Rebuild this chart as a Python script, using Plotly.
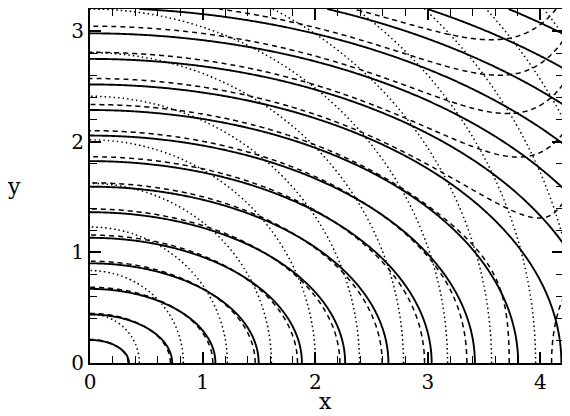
import numpy as np
import plotly.graph_objects as go

# ---- values ----
x_range = [0, 4.2]
y_range = [0, 3.2]
x_ticks = [0, 1, 2, 3, 4]
y_ticks = [0, 1, 2, 3]

# solid family: semi-axis per unit level (x, y) and level list
solid_scale = [0.384, 0.231]
solid_levels = [0.9, 1.9, 2.9, 3.9, 4.9, 5.9, 6.9, 7.9, 8.9, 9.9, 10.9,
                11.9, 12.9, 13.9, 14.9, 15.9, 16.9, 17.9]

# dashed family: close to solid near origin, bends back in upper right
dashed_scale = [0.376, 0.236]
dashed_bend = [0.15, 4.15, 8, 1.0]   # amplitude, x-ref, x-power, y-scale
dashed_levels = [0.9, 1.9, 2.9, 3.9, 4.9, 5.9, 6.9, 7.9, 8.9, 9.9, 10.9,
                 11.9, 12.9, 13.9, 14.9, 15.9]

# dotted family: near-circular fronts
dotted_scale = [0.391, 0.394]
dotted_levels = [1.12, 2.12, 3.12, 4.12, 5.12, 6.12, 7.12, 8.12, 9.12,
                 10.12, 11.12, 12.12, 13.12, 14.12]

# ---- grid ----
xs = np.linspace(x_range[0], x_range[1], 421)
ys = np.linspace(y_range[0], y_range[1], 321)
X, Y = np.meshgrid(xs, ys)

Z_solid = np.sqrt((X / solid_scale[0]) ** 2 + (Y / solid_scale[1]) ** 2)
A, XR, PW, YS = dashed_bend
Z_dashed = np.sqrt((X / dashed_scale[0]) ** 2 + (Y / dashed_scale[1]) ** 2) * \
    (1 - A * (X / XR) ** PW * (1 - np.exp(-(Y / YS) ** 2)))
Z_dotted = np.sqrt((X / dotted_scale[0]) ** 2 + (Y / dotted_scale[1]) ** 2)


def contour(z, levels, dash, width):
    return go.Contour(
        x=xs, y=ys, z=z,
        contours=dict(start=levels[0], end=levels[-1],
                      size=levels[1] - levels[0], coloring='none'),
        line=dict(color='black', width=width, dash=dash, smoothing=0),
        showscale=False, hoverinfo='skip')


fig = go.Figure()
fig.add_trace(contour(Z_dotted, dotted_levels, '1.5px,3px', 1.5))
fig.add_trace(contour(Z_dashed, dashed_levels, '5px,4px', 1.5))
fig.add_trace(contour(Z_solid, solid_levels, 'solid', 1.9))

font = dict(family='DejaVu Serif', size=20, color='black')
axis_common = dict(showgrid=False, zeroline=False, showline=True,
                   linecolor='black', linewidth=2, mirror='allticks',
                   ticks='inside', ticklen=11, tickwidth=1.6, tickcolor='black',
                   minor=dict(dtick=0.2, ticks='inside', ticklen=7,
                              tickwidth=1.3, tickcolor='black'),
                   tickfont=font, automargin=False, layer='above traces')
fig.update_xaxes(range=x_range, tickvals=x_ticks, **axis_common)
fig.update_yaxes(range=y_range, tickvals=y_ticks, **axis_common)

fig.update_layout(
    width=562, height=408,
    margin=dict(l=82, r=7, t=1, b=53),
    paper_bgcolor='white', plot_bgcolor='white',
    showlegend=False,
    annotations=[
        dict(text='x', xref='paper', yref='paper', x=0.497, y=-0.108,
             showarrow=False, xanchor='center', yanchor='middle',
             font=dict(family='DejaVu Serif', size=22, color='black')),
        dict(text='y', xref='paper', yref='paper', x=-0.16, y=0.5,
             showarrow=False, xanchor='center', yanchor='middle',
             font=dict(family='DejaVu Serif', size=22, color='black')),
    ],
)

fig.write_html('out.html')
